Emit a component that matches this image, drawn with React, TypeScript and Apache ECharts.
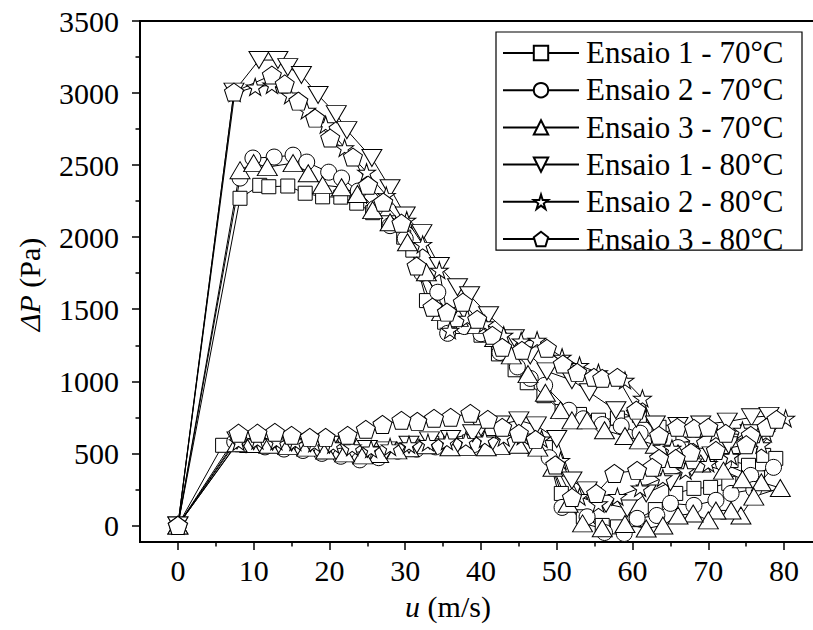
import React, { useEffect, useRef } from "react";
import * as echarts from "echarts";

const FAMILY = "Liberation Serif";

const seriesNames = [
  "Ensaio 1 - 70°C",
  "Ensaio 2 - 70°C",
  "Ensaio 3 - 70°C",
  "Ensaio 1 - 80°C",
  "Ensaio 2 - 80°C",
  "Ensaio 3 - 80°C",
];

// [u (m/s), ΔP (Pa)] in measurement order
const ensaio1_70: number[][] = [
  [0, 0], [8.2, 2270], [10.8, 2360], [12, 2350], [14.5, 2355], [16.8, 2305], [19.1, 2280], [21.5, 2278],
  [23.6, 2236], [25.7, 2170], [27.8, 2100], [29.8, 2000], [31, 1910], [32.8, 1560], [35.2, 1410],
  [37.5, 1380], [40, 1320], [42.3, 1190], [44.5, 1080], [46.1, 990], [48.3, 900], [50.7, 790],
  [53, 770], [55.5, 730], [58, 745], [60.9, 764], [63.5, 681], [64.8, 590], [67.5, 530], [70.5, 490],
  [73, 450], [75.3, 417], [77.3, 486], [78.9, 465], [76.5, 330], [72.7, 292], [70.3, 264], [68.1, 257],
  [65.7, 222], [63, 110], [60.5, 40], [58, -10], [56, 0], [53.5, 60], [50.6, 222], [48.5, 540],
  [46, 560], [43.5, 570], [41, 575], [38.5, 580], [36, 575], [33.5, 570], [31, 550], [28.5, 520],
  [26, 500], [23.5, 510], [21, 530], [18.5, 545], [16, 555], [13.5, 560], [11, 565], [8.5, 560],
  [5.9, 556], [0, 0],
];

const ensaio2_70: number[][] = [
  [0, 0], [8.2, 2410], [9.9, 2549], [12.7, 2556], [15.2, 2569], [17, 2521], [19.9, 2451], [21.6, 2410],
  [23.8, 2320], [26, 2200], [28, 2080], [30, 1990], [32.2, 1750], [34.3, 1618], [35.6, 1333],
  [37.8, 1380], [40, 1330], [42.5, 1200], [44.8, 1100], [46.5, 1020], [48.4, 972], [51.6, 799],
  [53.5, 740], [56, 700], [58.5, 690], [61, 640], [63.5, 600], [66, 540], [69, 480], [72, 430],
  [75.6, 347], [78.6, 403], [76, 250], [73, 222], [71, 174], [68.1, 139], [65, 153], [63.2, 69],
  [60.6, 49], [58.9, -56], [56.3, -49], [54, 60], [50.7, 125], [49, 470], [46.5, 550], [44, 560],
  [41.5, 555], [39, 560], [36.5, 550], [34, 545], [31.5, 530], [29, 515], [26.5, 470], [24, 455],
  [21.5, 480], [19, 500], [16.5, 520], [14, 530], [11.5, 545], [9, 560], [7.5, 580], [0, 0],
];

const ensaio3_70: number[][] = [
  [0, 0], [8.2, 2465], [10, 2514], [11.8, 2486], [15.2, 2514], [17.2, 2444], [19.1, 2361], [21.6, 2347],
  [23.7, 2300], [25.7, 2188], [28, 2104], [30.3, 1965], [32.8, 1757], [34.8, 1480], [37, 1440],
  [39.5, 1390], [41.8, 1300], [44, 1180], [46.2, 1050], [48.5, 920], [50.5, 800], [52, 729],
  [54, 729], [56.3, 660], [59, 620], [60.9, 590], [63, 560], [66, 500], [69, 430], [72, 380],
  [74.5, 320], [77, 299], [79.5, 260], [76, 200], [74.3, 69], [73, 104], [71, 104], [70, 35],
  [68, 83], [66, 69], [64, 0], [61.8, -21], [59, 10], [56, -20], [53.4, 14], [51.5, 150], [49.5, 400],
  [47.5, 540], [45, 560], [42.5, 550], [40.7, 542], [38, 545], [35.9, 542], [32.8, 556], [30.5, 535],
  [28.9, 521], [26.5, 495], [24.4, 486], [22, 500], [19.5, 520], [17, 540], [14.5, 550], [12, 560],
  [9.5, 565], [7.8, 570], [0, 0],
];

const ensaio1_80: number[][] = [
  [0, 0], [7.4, 3010], [10.7, 3229], [13.2, 3229], [14.5, 3180], [16.3, 3125], [18.5, 2986],
  [20.9, 2854], [22.3, 2743], [25.6, 2549], [28, 2340], [30, 2150], [32.2, 2028], [34.5, 1800],
  [36.9, 1653], [38.5, 1597], [41, 1458], [44.4, 1299], [46.5, 1180], [48.7, 1069], [52, 1007],
  [54.3, 924], [57.8, 799], [60.5, 740], [63, 700], [66, 690], [69, 700], [72.5, 720], [75.7, 750],
  [78, 760], [75.5, 640], [72.7, 556], [70.5, 486], [67.8, 403], [65, 300], [61.8, 222], [59.3, 118],
  [56.5, 150], [54, 243], [52, 312], [50, 600], [47.3, 694], [45, 729], [42.5, 700], [40, 680],
  [38.9, 639], [36, 600], [33.2, 590], [30.5, 560], [27.5, 521], [25, 530], [22.3, 542], [20, 560],
  [17.5, 570], [15, 575], [12.5, 580], [10, 585], [7.8, 590], [0, 0],
];

const ensaio2_80: number[][] = [
  [0, 0], [7.5, 3000], [10.2, 3042], [12.4, 3056], [14.8, 2986], [17, 2880], [19.5, 2780], [22, 2620],
  [24.9, 2451], [27.5, 2290], [30.2, 2118], [32.3, 1950], [34.5, 1771], [35.9, 1354], [38.2, 1438],
  [40.5, 1400], [43, 1320], [45.3, 1280], [47.4, 1285], [50.7, 1167], [53, 1110], [55.5, 1060],
  [59, 1007], [61.3, 882], [63.9, 542], [65.2, 535], [68, 600], [71, 640], [74.5, 660], [77.6, 639],
  [80.2, 743], [77, 560], [73, 480], [70, 430], [67, 380], [64, 330], [61, 260], [58, 200], [55.5, 150],
  [53, 200], [50.5, 450], [48, 600], [45.5, 620], [43, 610], [40.5, 600], [38, 590], [35.5, 585],
  [33, 575], [30.5, 560], [28, 545], [25.5, 530], [23, 545], [20.5, 560], [18, 570], [15.5, 580],
  [13, 585], [10.5, 590], [8, 580], [0, 0],
];

const ensaio3_80: number[][] = [
  [0, 0], [7.4, 3007], [12.4, 3125], [14.1, 3063], [15.9, 2944], [18.1, 2826], [20.1, 2688],
  [23.1, 2556], [25.1, 2361], [27.1, 2243], [29.5, 2097], [31.5, 1800], [33.6, 1514], [35.5, 1480],
  [37.6, 1549], [39.5, 1430], [41.5, 1319], [42.8, 1236], [45.4, 1215], [48.7, 1229], [50.8, 1120],
  [52.7, 1062], [54.9, 1028], [56, 1021], [58, 1028], [60.5, 800], [63.5, 625], [65.9, 681],
  [68.1, 674], [70, 681], [72.3, 639], [75.6, 625], [77.7, 681], [79, 736], [75, 560], [71, 520],
  [67.7, 507], [65.7, 465], [63.5, 465], [62.6, 403], [60.6, 382], [57.6, 361], [55.2, 222], [52, 194],
  [49.8, 420], [47.2, 597], [45, 639], [42.8, 681], [40.9, 736], [38.6, 778], [36, 750], [33.8, 743],
  [31.6, 722], [29.5, 729], [27, 701], [24.8, 667], [22.4, 625], [19.5, 611], [17.4, 611], [15, 625],
  [12.8, 646], [10.5, 640], [8, 640], [0, 0],
];

const seriesData = [ensaio1_70, ensaio2_70, ensaio3_70, ensaio1_80, ensaio2_80, ensaio3_80];

const xMajorTicks = [0, 10, 20, 30, 40, 50, 60, 70, 80];
const xMinorTicks = [5, 15, 25, 35, 45, 55, 65, 75, 85];
const yMajorTicks = [0, 500, 1000, 1500, 2000, 2500, 3000, 3500];
const yMinorTicks = [250, 750, 1250, 1750, 2250, 2750, 3250];

const xTitle = ["u", " (m/s)"];
const yTitle = ["ΔP", " (Pa)"];

const STAR =
  "path://M50,0L61.23,34.55L97.55,34.55L68.17,55.9L79.39,90.45L50,69.1L20.61,90.45L31.83,55.9L2.45,34.55L38.77,34.55Z";
const PENTAGON = "path://M50,0L97.55,34.55L79.39,90.45L20.61,90.45L2.45,34.55Z";
const INV_TRIANGLE = "path://M0,0L100,0L50,86.6Z";

const symbols: any[] = ["rect", "circle", "triangle", INV_TRIANGLE, STAR, PENTAGON];
const symbolSizes: any[] = [14, 16, [20, 17], [20, 17], [18, 17], [19, 18]];

const font = (size: number, italic = false) => `${italic ? "italic " : ""}${size}px ${FAMILY}`;

function measure(text: string, f: string): number {
  const c = document.createElement("canvas").getContext("2d");
  if (!c) return text.length * 14;
  c.font = f;
  return c.measureText(text).width;
}

function txt(text: string, x: number, y: number, f: string, align: string, valign: string) {
  return {
    type: "text",
    x,
    y,
    silent: true,
    style: {
      text,
      font: f,
      fill: "#000",
      align,
      verticalAlign: valign,
      textAlign: align,
      textVerticalAlign: valign,
    },
  };
}

export default function App() {
  const ref = useRef<HTMLDivElement>(null);

  useEffect(() => {
    if (!ref.current) return;
    const chart = echarts.init(ref.current, undefined, { renderer: "svg" });

    const axisLineStyle = { color: "#000", width: 2 };
    const tickLineStyle = { color: "#000", width: 1.5 };
    const legendTop = 32;
    const legendPadTop = 12;
    const legendItemH = 18;
    const legendRowH = 17.3; // measured row height of an icon-only legend item
    const legendGap = 20;

    const option: any = {
      animation: false,
      backgroundColor: "#fff",
      grid: {
        left: 140,
        top: 21,
        right: 8,
        bottom: 88,
        show: true,
        borderColor: "#000",
        borderWidth: 2,
        backgroundColor: "transparent",
      },
      legend: {
        orient: "vertical",
        left: 496,
        top: legendTop,
        itemWidth: 76,
        itemHeight: legendItemH,
        itemGap: legendGap,
        padding: [legendPadTop, 222, 3, 6],
        borderColor: "#000",
        borderWidth: 1.2,
        backgroundColor: "#fff",
        textStyle: { fontSize: 12 },
        formatter: () => "",
        selectedMode: false,
        data: seriesNames,
      },
      xAxis: [
        {
          type: "value",
          min: -5,
          max: 85,
          position: "bottom",
          axisLine: { show: true, onZero: false, lineStyle: axisLineStyle },
          axisTick: { show: true, length: 8, lineStyle: tickLineStyle, customValues: xMajorTicks },
          axisLabel: { show: false },
          splitLine: { show: false },
        },
        {
          type: "value",
          min: -5,
          max: 85,
          position: "bottom",
          axisLine: { show: false, onZero: false },
          axisTick: { show: true, length: 4.5, lineStyle: tickLineStyle, customValues: xMinorTicks },
          axisLabel: { show: false },
          splitLine: { show: false },
        },
      ],
      yAxis: [
        {
          type: "value",
          min: -115,
          max: 3500,
          position: "left",
          axisLine: { show: true, onZero: false, lineStyle: axisLineStyle },
          axisTick: { show: true, length: 8, lineStyle: tickLineStyle, customValues: yMajorTicks },
          axisLabel: { show: false },
          splitLine: { show: false },
        },
        {
          type: "value",
          min: -115,
          max: 3500,
          position: "left",
          axisLine: { show: false, onZero: false },
          axisTick: { show: true, length: 4.5, lineStyle: tickLineStyle, customValues: yMinorTicks },
          axisLabel: { show: false },
          splitLine: { show: false },
        },
      ],
      series: seriesData.map((d, i) => ({
        name: seriesNames[i],
        type: "line",
        xAxisIndex: 0,
        yAxisIndex: 0,
        data: d,
        symbol: symbols[i],
        symbolSize: symbolSizes[i],
        showAllSymbol: true,
        color: "#000",
        lineStyle: { color: "#000", width: 1 },
        itemStyle: { color: "#fff", borderColor: "#000", borderWidth: 1 },
        emphasis: { disabled: true },
      })),
    };

    chart.setOption(option);

    // Texts (tick labels, axis titles, legend labels) placed from the chart's own scales.
    const px = (v: number) => chart.convertToPixel({ xAxisIndex: 0 } as any, v) as number;
    const py = (v: number) => chart.convertToPixel({ yAxisIndex: 0 } as any, v) as number;
    const axisX = px(-5);
    const axisY = py(-115);

    const elements: any[] = [];
    xMajorTicks.forEach((v) => elements.push(txt(String(v), px(v), axisY + 28, font(30), "center", "middle")));
    yMajorTicks.forEach((v) => elements.push(txt(String(v), axisX - 21, py(v), font(30), "right", "middle")));

    // x title
    const xw0 = measure(xTitle[0], font(30, true));
    const xw1 = measure(xTitle[1], font(30));
    const xCenter = (px(-5) + px(85)) / 2 - 33;
    const xStart = xCenter - (xw0 + xw1) / 2;
    elements.push(txt(xTitle[0], xStart, axisY + 64, font(30, true), "left", "middle"));
    elements.push(txt(xTitle[1], xStart + xw0, axisY + 64, font(30), "left", "middle"));

    // y title (rotated)
    const yw0 = measure(yTitle[0], font(30, true));
    const yw1 = measure(yTitle[1], font(30));
    const yStart = -(yw0 + yw1) / 2;
    elements.push({
      type: "group",
      x: axisX - 111,
      y: (py(-115) + py(3500)) / 2 + 3,
      rotation: Math.PI / 2,
      children: [
        txt(yTitle[0], yStart, 0, font(30, true), "left", "middle"),
        txt(yTitle[1], yStart + yw0, 0, font(30), "left", "middle"),
      ],
    });

    // legend labels, aligned with the legend's icon rows
    seriesNames.forEach((name, i) => {
      elements.push(
        txt(
          name,
          586,
          legendTop + legendPadTop + legendRowH / 2 + i * (legendRowH + legendGap),
          font(31),
          "left",
          "middle"
        )
      );
    });

    chart.setOption({ graphic: elements.map((e) => ({ ...e, z: 100 })) });

    return () => chart.dispose();
  }, []);

  return (
    <div
      style={{
        position: "fixed",
        left: 0,
        top: 0,
        width: 813,
        height: 630,
        overflow: "hidden",
        background: "#fff",
      }}
    >
      <div ref={ref} style={{ width: 830, height: 630 }} />
    </div>
  );
}
